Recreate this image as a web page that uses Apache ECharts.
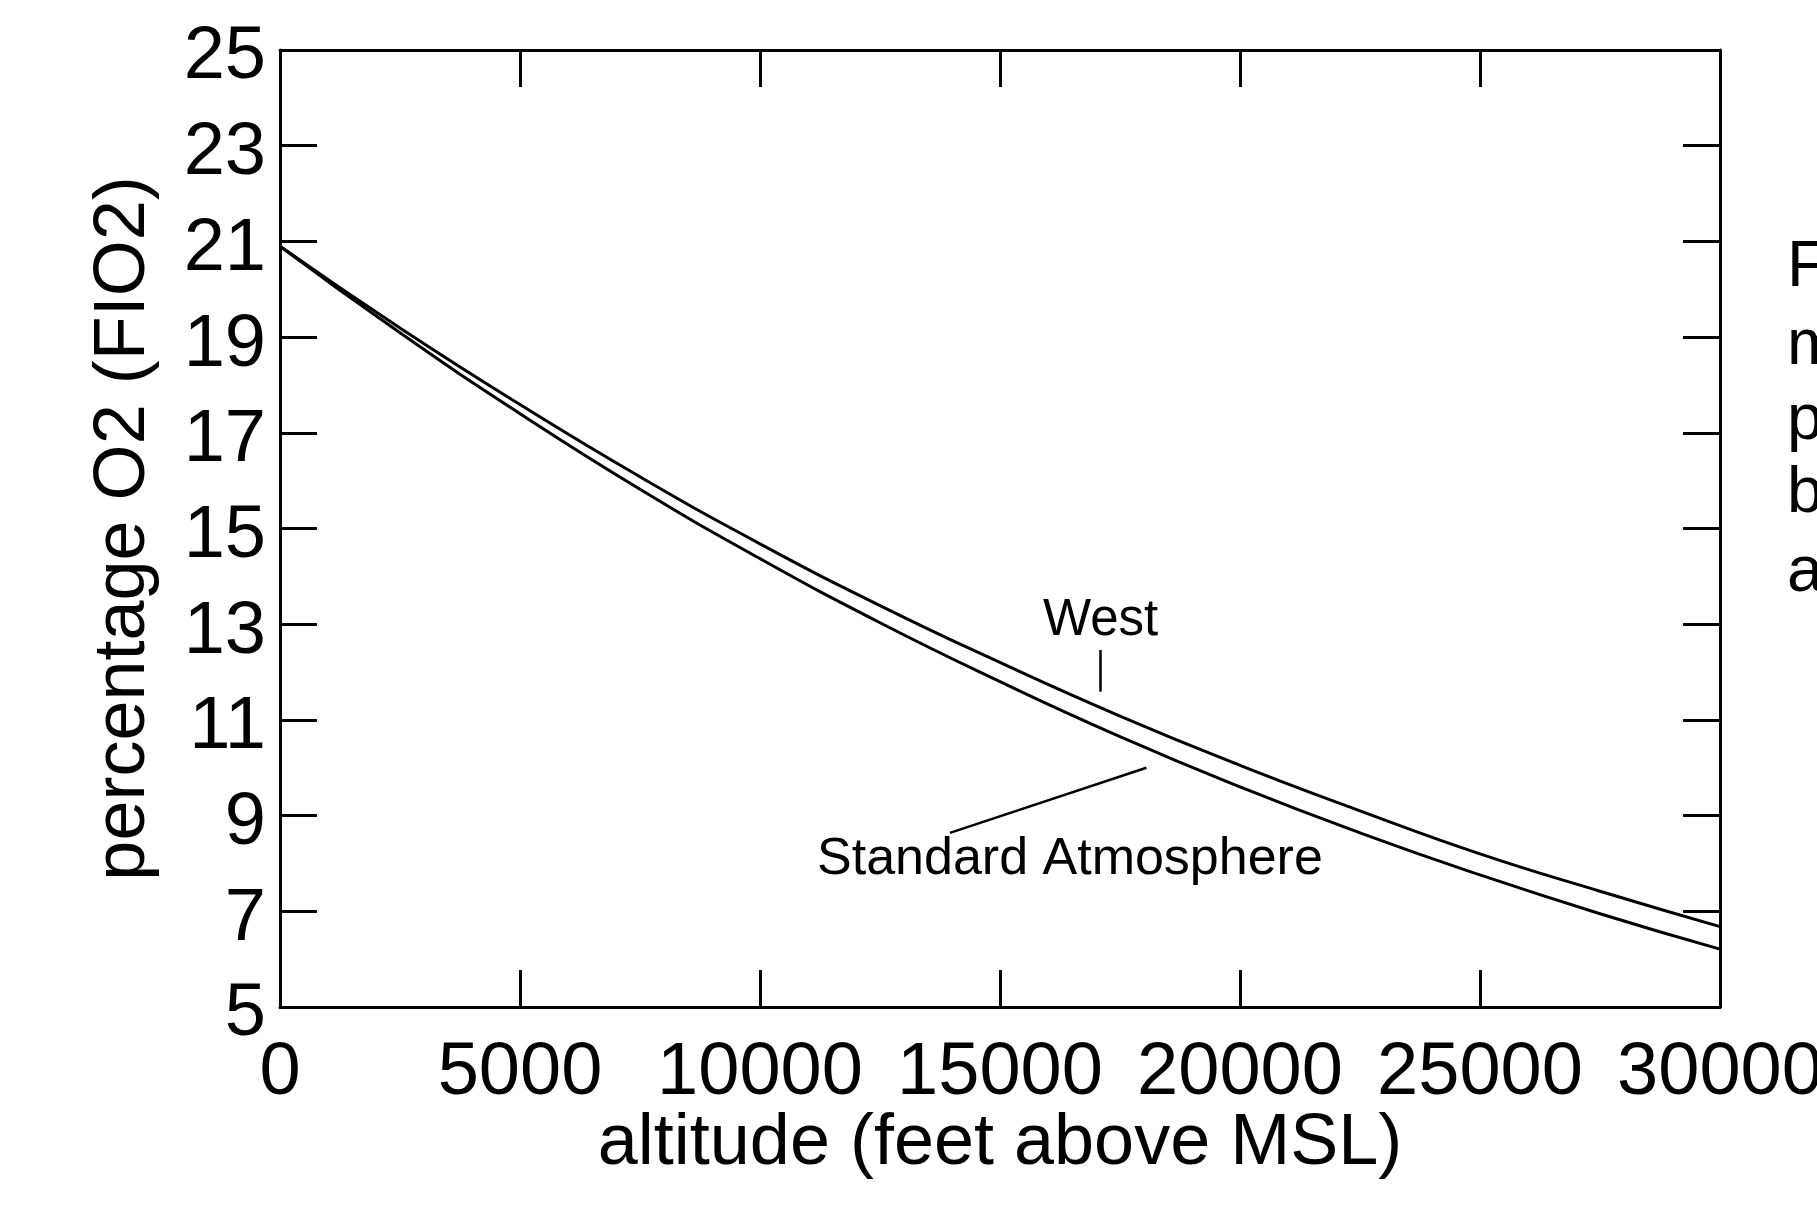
<!DOCTYPE html>
<html>
<head>
<meta charset="utf-8">
<title>FIO2 vs altitude</title>
<script src="https://cdn.jsdelivr.net/npm/echarts@6/dist/echarts.min.js"></script>
<style>
	html, body { margin: 0; padding: 0; background: #fff; overflow: hidden; }
	#main { width: 1817px; height: 1212px; }
</style>
</head>
<body>
<div id="main"></div>
<script type="text/javascript">
	// altitude in feet above MSL
	var altitude = [0, 2500, 5000, 7500, 10000, 12500, 15000, 17500, 20000, 22500, 25000, 27500, 30000];
	// percentage O2
	var west     = [20.9, 19.19, 17.59, 16.08, 14.68, 13.39, 12.20, 11.08, 10.05, 9.10, 8.20, 7.42, 6.68];
	var standard = [20.9, 19.09, 17.40, 15.82, 14.37, 13.03, 11.80, 10.65, 9.60, 8.64, 7.76, 6.95, 6.21];
	var xTickStep = 5000;
	var yTickStep = 2;   // labels 5, 7, 9 ... 25

	var font = 'Liberation Sans, Arial, Helvetica, sans-serif';

	function pairs(xs, ys) {
		return xs.map(function (x, i) { return [x, ys[i]]; });
	}

	var tickStyle = { show: true, inside: true, length: 37, lineStyle: { color: '#000', width: 3 } };
	var lineStyle = { show: true, onZero: false, lineStyle: { color: '#000', width: 3 } };

	var option = {
		animation: false,
		backgroundColor: '#fff',
		grid: { left: 280, top: 50, width: 1440, height: 957, containLabel: false, outerBoundsMode: 'none' },
		xAxis: [{
			type: 'value', position: 'bottom', min: 0, max: 30000, interval: xTickStep,
			axisLine: lineStyle,
			axisTick: tickStyle,
			splitLine: { show: false },
			axisLabel: {
				color: '#000', fontSize: 74, fontFamily: font, margin: 30,
				formatter: function (v) { return String(v); }
			},
			name: 'altitude (feet above MSL)', nameLocation: 'middle', nameGap: 101, nameMoveOverlap: false,
			nameTextStyle: { color: '#000', fontSize: 72, fontFamily: font }
		}, {
			type: 'value', position: 'top', min: 0, max: 30000, interval: xTickStep,
			axisLine: lineStyle, axisTick: tickStyle,
			splitLine: { show: false }, axisLabel: { show: false }
		}],
		yAxis: [{
			type: 'value', position: 'left', min: 5, max: 25, interval: yTickStep,
			axisLine: lineStyle,
			axisTick: tickStyle,
			splitLine: { show: false },
			axisLabel: {
				margin: 14,
				formatter: function (v) { return '{t|' + v + '}'; },
				rich: { t: { color: '#000', fontSize: 74, fontFamily: font, padding: [16, 0, 0, 0] } }
			},
			name: 'percentage O2 (FIO2)', nameLocation: 'middle', nameGap: 120, nameMoveOverlap: false,
			nameTextStyle: { color: '#000', fontSize: 72, fontFamily: font }
		}, {
			type: 'value', position: 'right', min: 5, max: 25, interval: yTickStep,
			axisLine: lineStyle,
			axisTick: tickStyle,
			splitLine: { show: false }, axisLabel: { show: false }
		}],
		series: [{
			name: 'West', type: 'line', smooth: true, symbol: 'none',
			data: pairs(altitude, west),
			lineStyle: { color: '#000', width: 3 },
			markLine: {
				silent: true, symbol: 'none', label: { show: false },
				lineStyle: { color: '#000', width: 2.5, type: 'solid' },
				data: [
					[{ coord: [17083, 12.46] }, { coord: [17083, 11.59] }],
					[{ coord: [13958, 8.64] }, { coord: [18050, 10.0] }]
				]
			}
		}, {
			name: 'Standard Atmosphere', type: 'line', smooth: true, symbol: 'none',
			data: pairs(altitude, standard),
			lineStyle: { color: '#000', width: 3 }
		}],
		graphic: [
			{ type: 'text', left: 1043, top: 595, style: { text: 'West', fontSize: 51, fontFamily: font, fill: '#000' } },
			{ type: 'text', left: 817, top: 834, style: { text: 'Standard Atmosphere', fontSize: 52, fontFamily: font, fill: '#000' } },
			{ type: 'text', left: 1787, top: 236, style: { text: 'F', fontSize: 65, fontFamily: font, fill: '#000' } },
			{ type: 'text', left: 1787, top: 314, style: { text: 'm', fontSize: 65, fontFamily: font, fill: '#000' } },
			{ type: 'text', left: 1787, top: 389, style: { text: 'p', fontSize: 65, fontFamily: font, fill: '#000' } },
			{ type: 'text', left: 1787, top: 462, style: { text: 'b', fontSize: 65, fontFamily: font, fill: '#000' } },
			{ type: 'text', left: 1787, top: 541, style: { text: 'a', fontSize: 65, fontFamily: font, fill: '#000' } }
		]
	};

	var myChart = echarts.init(document.getElementById('main'));
	myChart.setOption(option);
</script>
</body>
</html>
